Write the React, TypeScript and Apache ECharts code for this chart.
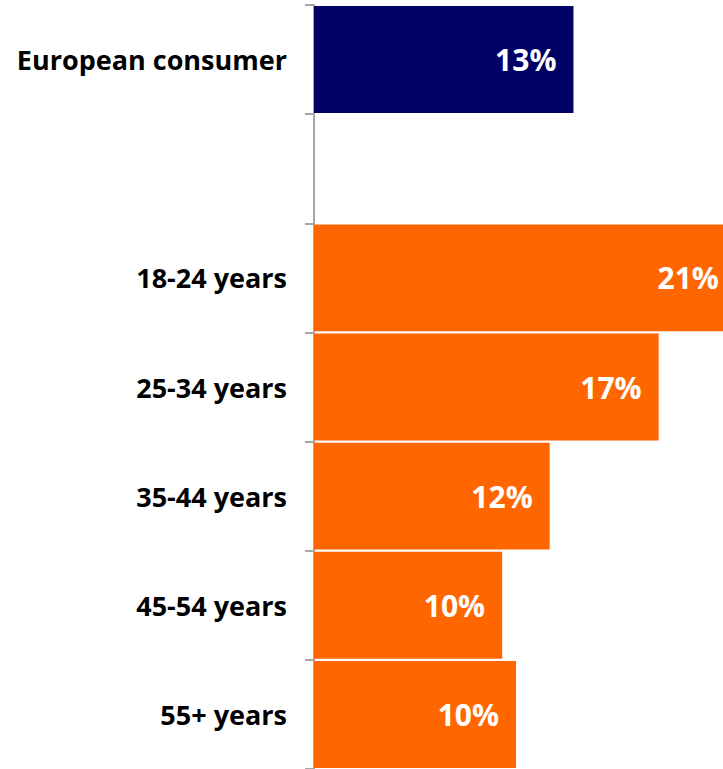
import React, { useEffect, useRef } from "react";
import * as echarts from "echarts";

const categories = ["European consumer", "", "18-24 years", "25-34 years", "35-44 years", "45-54 years", "55+ years"];
const values: (number | null)[] = [13.1, null, 21.3, 17.4, 11.9, 9.5, 10.2];
const barColors = ["#000066", "#000066", "#FF6600", "#FF6600", "#FF6600", "#FF6600", "#FF6600"];

export default function App() {
  const ref = useRef<HTMLDivElement>(null);
  useEffect(() => {
    if (!ref.current) return;
    const chart = echarts.init(ref.current, null, { renderer: "svg" });
    chart.setOption({
      animation: false,
      backgroundColor: "#ffffff",
      textStyle: { fontFamily: "Open Sans" },
      grid: { left: 314, right: 0, top: 5, bottom: -3, containLabel: false },
      xAxis: {
        type: "value",
        min: 0,
        max: 20.65,
        show: false,
      },
      yAxis: {
        type: "category",
        inverse: true,
        data: categories,
        axisLine: { show: true, lineStyle: { color: "#a6a6a6", width: 2 } },
        axisTick: { show: true, length: 9, lineStyle: { color: "#a6a6a6", width: 2 } },
        axisLabel: {
          margin: 27,
          color: "#000000",
          fontSize: 27,
          fontWeight: "bold",
          fontFamily: "Open Sans",
        },
        splitLine: { show: false },
      },
      series: [
        {
          type: "bar",
          clip: false,
          barCategoryGap: "2%",
          data: values.map((v, i) => ({ value: v, itemStyle: { color: barColors[i] } })),
          label: {
            show: true,
            position: "insideRight",
            distance: 17,
            color: "#ffffff",
            fontSize: 30,
            fontWeight: "bold",
            fontFamily: "Open Sans",
            formatter: (p: any) => (p.value == null ? "" : Math.round(p.value) + "%"),
          },
        },
      ],
    });
    return () => chart.dispose();
  }, []);
  return (
    <div
      ref={ref}
      style={{ position: "fixed", left: 0, top: 0, width: 723, height: 769 }}
    />
  );
}
